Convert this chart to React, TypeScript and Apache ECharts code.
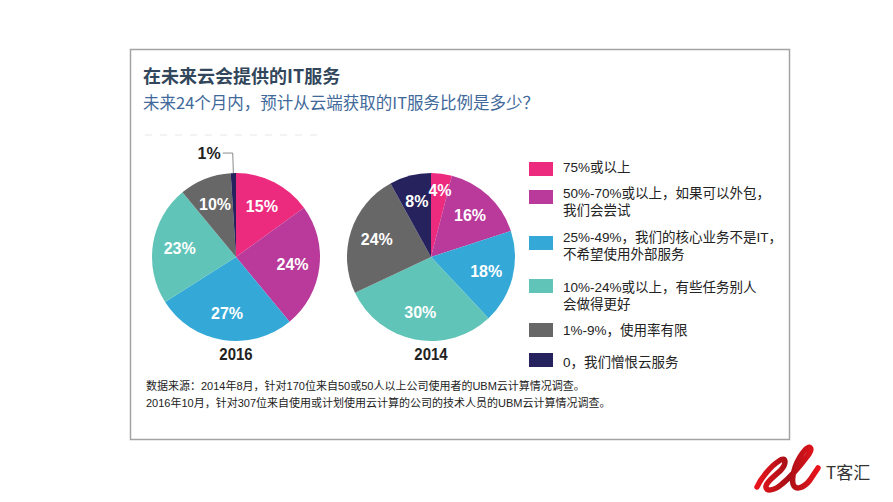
import React, { useEffect, useRef } from "react";
import * as echarts from "echarts";

const title = "在未来云会提供的IT服务";
const subtitle = "未来24个月内，预计从云端获取的IT服务比例是多少？";
const categories = [
  "75%或以上",
  "50%-70%或以上，如果可以外包，\n我们会尝试",
  "25%-49%，我们的核心业务不是IT，\n不希望使用外部服务",
  "10%-24%或以上，有些任务别人\n会做得更好",
  "1%-9%，使用率有限",
  "0，我们憎恨云服务",
];
const values2016 = [15, 24, 27, 23, 10, 1];
const values2014 = [4, 16, 18, 30, 24, 8];
const years = ["2016", "2014"];
const colors = ["#ec2a7e", "#b93a9b", "#34a9d8", "#60c4b8", "#676767", "#26225d"];
const notes = [
  "数据来源：2014年8月，针对170位来自50或50人以上公司使用者的UBM云计算情况调查。",
  "2016年10月，针对307位来自使用或计划使用云计算的公司的技术人员的UBM云计算情况调查。",
];
const logoText = "T客汇";

// layout constants
const R = 84;
const pieCenters: [number, number][] = [
  [236, 257],
  [431, 257],
];
const legendSquareY = [162, 190, 236, 279, 323, 353];
const legendTextY = [167, 193, 237, 287, 330, 362];
const LINE_GAP = 17.5;
const SANS = "'Liberation Sans',Arial,sans-serif";
const CJK = "'Noto Sans CJK SC','Noto Sans',sans-serif";
const MIXED = "'Liberation Sans','Noto Sans CJK SC',sans-serif";

const logoPath =
  "M 757 487 C 761 478 771 466 779 461 C 786 456 787 463 781 470 C 775 476 767 481 766 486 C 765 492 774 491 782 484 C 792 476 803 462 809 454 C 813 448 810 445 805 450 C 797 459 791 474 793 484 C 795 491 804 488 810 480 L 818 468";

echarts.graphic.registerShape("logo", echarts.graphic.extendPath(logoPath, {}));

function pieSeries(values: number[], center: [number, number]) {
  const base = values.map((v, i) => ({
    name: categories[i],
    value: v,
    itemStyle: { color: colors[i] },
  }));
  const labelData = values.map((v, i) => {
    const tiny = v < 3;
    const narrow = !tiny && v < 6;
    let label: any = { position: "inside" };
    let labelLine: any = { show: false };
    if (tiny) {
      label = { position: "outside", color: "#222", distanceToLabelLine: 2 };
      labelLine = { show: true, length: 20, length2: 10, smooth: false, lineStyle: { color: "#8a8a8a", width: 1 } };
    } else if (narrow) {
      // pushed-out label that still sits inside the thin slice
      label = { position: "outside", color: "#fff", distanceToLabelLine: 2 };
      labelLine = { show: false, length: -17, length2: -13 };
    }
    return {
      name: categories[i],
      value: v,
      itemStyle: { color: "rgba(0,0,0,0)" },
      label,
      labelLine,
    };
  });
  return [
    {
      type: "pie",
      center,
      radius: [0, R],
      startAngle: 90,
      clockwise: true,
      silent: true,
      data: base,
      label: { show: false },
      labelLine: { show: false },
      itemStyle: { borderWidth: 0 },
    },
    {
      type: "pie",
      center,
      radius: [24, R],
      startAngle: 90,
      clockwise: true,
      silent: true,
      avoidLabelOverlap: false,
      data: labelData,
      label: {
        show: true,
        formatter: "{c}%",
        color: "#fff",
        fontFamily: SANS,
        fontWeight: "bold",
        fontSize: 16,
      },
      labelLine: { show: false },
      itemStyle: { borderWidth: 0 },
    },
  ];
}

export default function App() {
  const ref = useRef<HTMLDivElement>(null);
  useEffect(() => {
    if (!ref.current) return;
    const chart = echarts.init(ref.current, undefined, { renderer: "svg" });
    const graphics: any[] = [
      {
        type: "rect",
        shape: { x: 130.5, y: 49.5, width: 659, height: 390 },
        style: { fill: "none", stroke: "#a3a3a3", lineWidth: 1.5 },
        silent: true,
      },
      {
        type: "text",
        x: 143,
        y: 75,
        style: {
          text: title,
          fill: "#33475c",
          fontSize: 18,
          fontWeight: "bold",
          fontFamily: CJK,
          verticalAlign: "middle",
          align: "left",
        },
      },
      {
        type: "text",
        x: 143,
        y: 102,
        style: {
          text: subtitle,
          fill: "#41699a",
          fontSize: 16.5,
          fontFamily: CJK,
          verticalAlign: "middle",
          align: "left",
        },
      },
      {
        type: "line",
        shape: { x1: 145, y1: 135, x2: 317, y2: 135 },
        style: { stroke: "#efefef", lineWidth: 1.5, lineDash: [7, 8] },
        silent: true,
      },
    ];
    years.forEach((y, i) => {
      graphics.push({
        type: "text",
        x: pieCenters[i][0],
        y: 354,
        scaleX: 0.88,
        style: {
          text: y,
          fill: "#222",
          fontSize: 17,
          fontWeight: "bold",
          fontFamily: SANS,
          verticalAlign: "middle",
          align: "center",
        },
      });
    });
    categories.forEach((c, i) => {
      graphics.push({
        type: "rect",
        shape: { x: 529, y: legendSquareY[i], width: 24, height: 14 },
        style: { fill: colors[i] },
        silent: true,
      });
      c.split("\n").forEach((line, j) => {
        graphics.push({
          type: "text",
          x: 563,
          y: legendTextY[i] + j * LINE_GAP,
          style: {
            text: line,
            fill: "#222",
            fontSize: 13.5,
            fontFamily: MIXED,
            verticalAlign: "middle",
            align: "left",
          },
        });
      });
    });
    notes.forEach((n, i) => {
      graphics.push({
        type: "text",
        x: 146,
        y: 386 + i * 17,
        style: {
          text: n,
          fill: "#222",
          fontSize: 11,
          fontFamily: MIXED,
          verticalAlign: "middle",
          align: "left",
        },
      });
    });
    graphics.push({
      type: "logo",
      x: 0,
      y: 0,
      style: {
        fill: "none",
        stroke: new echarts.graphic.LinearGradient(0, 0, 1, 0, [
          { offset: 0, color: "#e8141c" },
          { offset: 0.5, color: "#a80f16" },
          { offset: 1, color: "#e8141c" },
        ]),
        lineWidth: 5.5,
        lineCap: "round",
        lineJoin: "round",
      },
      silent: true,
    });
    graphics.push({
      type: "text",
      x: 826,
      y: 471,
      style: {
        text: logoText,
        fill: "#333",
        fontSize: 17,
        fontFamily: CJK,
        verticalAlign: "middle",
        align: "left",
      },
    });

    chart.setOption({
      animation: false,
      backgroundColor: "#fff",
      series: [...pieSeries(values2016, pieCenters[0]), ...pieSeries(values2014, pieCenters[1])],
      graphic: graphics,
    });
    return () => chart.dispose();
  }, []);
  return (
    <div
      ref={ref}
      style={{ position: "fixed", left: 0, top: 0, width: 893, height: 502, background: "#fff" }}
    />
  );
}
